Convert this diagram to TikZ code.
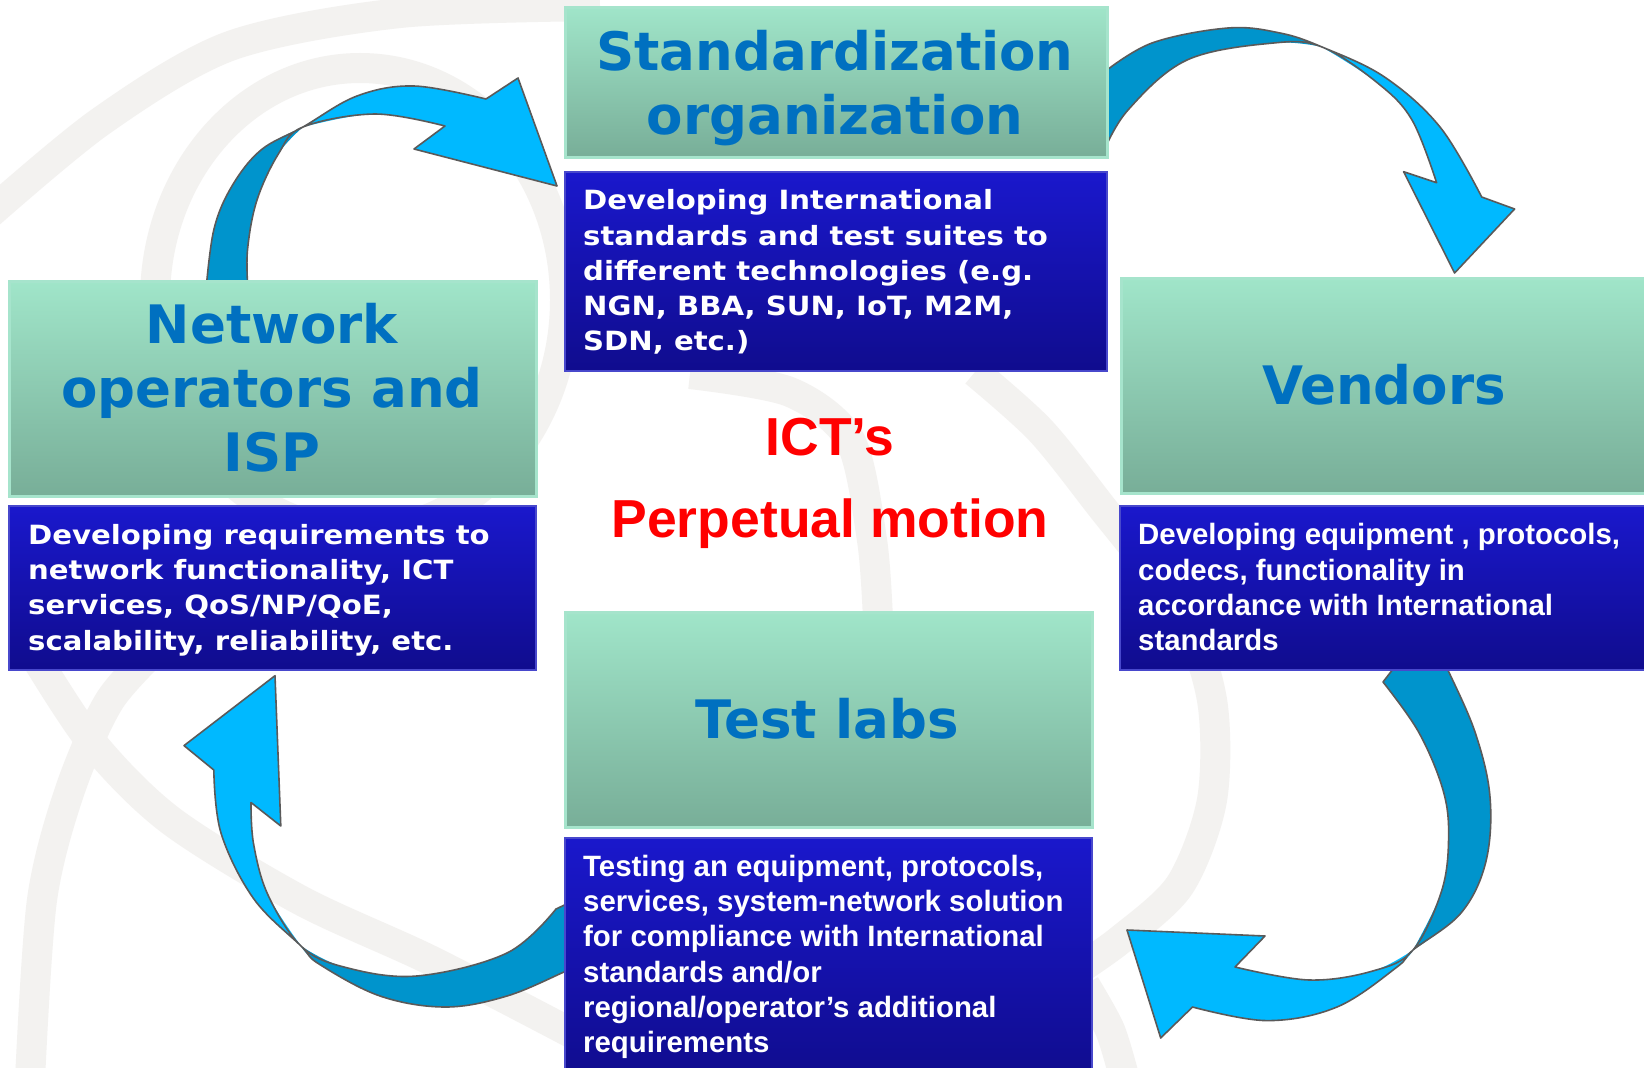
\documentclass[tikz,border=0pt]{standalone}
\usepackage{fontspec}
\newfontfamily\verd{DejaVu Sans}
\newfontfamily\verdw{DejaVu Sans}[FakeStretch=1.1]
\newfontfamily\arl{Liberation Sans}
\definecolor{hdrtop}{RGB}{160,229,201}
\definecolor{hdrbot}{RGB}{120,174,152}
\definecolor{hdrline}{RGB}{166,228,204}
\definecolor{hdrtxt}{RGB}{0,112,192}
\definecolor{desctop}{RGB}{26,24,204}
\definecolor{descbot}{RGB}{16,12,142}
\definecolor{descline}{RGB}{72,72,204}
\definecolor{arrlt}{RGB}{0,185,255}
\definecolor{arrdk}{RGB}{0,148,204}
\definecolor{arrln}{RGB}{90,90,90}
\definecolor{bgband}{RGB}{243,242,240}
\definecolor{redtxt}{RGB}{255,0,0}
\begin{document}
\begin{tikzpicture}[x=1pt,y=-1pt,
  hdrbox/.style={rectangle, anchor=north west, inner sep=0pt, draw=hdrline, line width=3pt, top color=hdrtop, bottom color=hdrbot},
  descbox/.style={rectangle, anchor=north west, inner sep=0pt, draw=descline, line width=2pt, top color=desctop, bottom color=descbot},
  hdrtext/.style={anchor=north, inner sep=0pt, align=center, text=hdrtxt, font=\verd\bfseries\fontsize{53}{64}\selectfont},
  desctv/.style={anchor=north west, inner sep=0pt, align=left, text=white, font=\verdw\bfseries\fontsize{26.5}{35.3}\selectfont},
  descta/.style={anchor=north west, inner sep=0pt, align=left, text=white, font=\arl\bfseries\fontsize{29.4}{35.3}\selectfont},
  band/.style={draw=bgband, line width=30pt},
  lt/.style={fill=arrlt}, dk/.style={fill=arrdk},
  ol/.style={draw=arrln, line width=1.6pt, line join=round}
]
\useasboundingbox (0,0) rectangle (1644,1068);
\fill[white] (0,0) rectangle (1644,1068);

% background swirl
\draw[band] plot[smooth] coordinates {(-20,222) (100,122) (230,46) (400,13) (600,6)};
\draw[band] (360,300) ellipse [x radius=205pt, y radius=232pt];
\draw[band] plot[smooth] coordinates {(690,374) (790,392) (850,440) (872,540) (878,620)};
\draw[band] plot[smooth] coordinates {(975,372) (1040,430) (1100,505) (1180,610) (1212,700) (1212,800) (1180,885) (1120,940) (1070,975)};
\draw[band] plot[smooth] coordinates {(30,1080) (42,900) (70,790) (110,700) (165,640)};
\draw[band] plot[smooth] coordinates {(25,640) (90,740) (170,820) (300,900) (430,960) (575,1035)};
\draw[band] plot[smooth] coordinates {(1085,985) (1110,1030) (1125,1080)};

% arrow A: network -> standardization
\fill[lt] (303,127) -- plot[smooth,tension=.6] coordinates {(303,127) (357,96) (414,86) (486,99)} -- (518,78) -- (557,186) -- (414,149) -- (445,126) -- plot[smooth,tension=.6] coordinates {(445,126) (375,114) (303,127)} -- cycle;
\fill[dk] plot[smooth,tension=.6] coordinates {(206,290) (214,229) (232,186) (261,150) (303,127)} -- plot[smooth,tension=.6] coordinates {(303,127) (278.6,153.6) (257,200) (247.5,250) (248,290)} -- cycle;
\draw[ol] plot[smooth,tension=.6] coordinates {(206,290) (214,229) (232,186) (261,150) (303,127) (357,96) (414,86) (486,99)} -- (518,78) -- (557,186) -- (414,149) -- (445,126) -- plot[smooth,tension=.6] coordinates {(445,126) (375,114) (303,127) (278.6,153.6) (257,200) (247.5,250) (248,290)};

% arrow B: standardization -> vendors
\fill[lt] (1322,47) -- plot[smooth,tension=.6] coordinates {(1322,47) (1377.6,83) (1412,120) (1436.6,182.7)} -- (1403.6,171.7) -- (1454.6,273) -- (1514.6,209) -- (1481.7,197) -- plot[smooth,tension=.6] coordinates {(1481.7,197) (1440,127) (1384.5,77) (1322,47)} -- cycle;
\fill[dk] plot[smooth,tension=.6] coordinates {(1103,153) (1128,110) (1187,60) (1273.5,43) (1322,47)} -- plot[smooth,tension=.6] coordinates {(1322,47) (1280,33) (1228,28) (1152,43) (1103,73)} -- cycle;
\draw[ol] plot[smooth,tension=.6] coordinates {(1103,153) (1128,110) (1187,60) (1273.5,43) (1322,47) (1377.6,83) (1412,120) (1436.6,182.7)} -- (1403.6,171.7) -- (1454.6,273) -- (1514.6,209) -- (1481.7,197) -- plot[smooth,tension=.6] coordinates {(1481.7,197) (1440,127) (1384.5,77) (1322,47) (1280,33) (1228,28) (1152,43) (1103,73)};

% arrow C: vendors -> test labs
\fill[lt] (1413,950) -- plot[smooth,tension=.6] coordinates {(1413,950) (1372.7,971) (1309,980) (1235,967)} -- (1265,936) -- (1127,930) -- (1160.7,1038) -- (1192.5,1007) -- plot[smooth,tension=.6] coordinates {(1192.5,1007) (1267,1020.6) (1337,1007) (1397,967) (1413,950)} -- cycle;
\fill[dk] (1400,660) -- (1383,682) -- plot[smooth,tension=.6] coordinates {(1383,682) (1418.6,732) (1443,790) (1448.6,837) (1441.6,891) (1413,950)} -- plot[smooth,tension=.6] coordinates {(1413,950) (1461,913) (1485.8,862) (1490,797) (1475,732) (1447,668) (1443,660)} -- cycle;
\draw[ol] (1400,660) -- (1383,682) -- plot[smooth,tension=.6] coordinates {(1383,682) (1418.6,732) (1443,790) (1448.6,837) (1441.6,891) (1413,950) (1372.7,971) (1309,980) (1235,967)} -- (1265,936) -- (1127,930) -- (1160.7,1038) -- (1192.5,1007) -- plot[smooth,tension=.6] coordinates {(1192.5,1007) (1267,1020.6) (1337,1007) (1397,967) (1413,950) (1461,913) (1485.8,862) (1490,797) (1475,732) (1447,668) (1443,660)};

% arrow D: test labs -> network
\fill[lt] (301,946) -- plot[smooth,tension=.6] coordinates {(301,946) (268,895) (253.6,844) (251,802.5)} -- (280.8,826) -- (275,675.7) -- (184,745.6) -- (213.8,770) -- plot[smooth,tension=.6] coordinates {(213.8,770) (221,833) (253.6,898.6) (301,946)} -- cycle;
\fill[dk] (575,900) -- (556,909) -- plot[smooth,tension=.6] coordinates {(556,909) (507,953) (416.7,976) (344,967) (301,946)} -- plot[smooth,tension=.6] coordinates {(301,946) (319,964) (380,996) (445.6,1007) (507,996) (564,972) (575,967)} -- cycle;
\draw[ol] (575,900) -- (556,909) -- plot[smooth,tension=.6] coordinates {(556,909) (507,953) (416.7,976) (344,967) (301,946) (268,895) (253.6,844) (251,802.5)} -- (280.8,826) -- (275,675.7) -- (184,745.6) -- (213.8,770) -- plot[smooth,tension=.6] coordinates {(213.8,770) (221,833) (253.6,898.6) (301,946) (319,964) (380,996) (445.6,1007) (507,996) (564,972) (575,967)};

% boxes
\node[hdrbox, minimum width=541.5pt, minimum height=149.5pt] (stdh) at (564,6) {};
\node[descbox, minimum width=541.5pt, minimum height=199pt] (stdd) at (564,171) {};
\node[hdrbox, minimum width=527pt, minimum height=214.5pt] (neth) at (8,280) {};
\node[descbox, minimum width=527pt, minimum height=163.5pt] (netd) at (8,505) {};
\node[hdrbox, minimum width=540pt, minimum height=214.5pt] (venh) at (1120,277) {};
\node[descbox, minimum width=540pt, minimum height=163.5pt] (vend) at (1119,505) {};
\node[hdrbox, minimum width=526.5pt, minimum height=215pt] (testh) at (564,611) {};
\node[descbox, minimum width=526.5pt, minimum height=240pt] (testd) at (564,836.5) {};

% header texts
\node[hdrtext] (stdht) at (835,25.2) {\strut Standardization\\organization};
\node[hdrtext] (netht) at (272,298.8) {\strut Network\\operators and\\ISP};
\node[hdrtext] (venht) at (1384,359.8) {\strut Vendors};
\node[hdrtext] (testht) at (827,693.2) {\strut Test labs};

% description texts
\node[desctv] (stdt) at (583,184.8) {\strut Developing International\\standards and test suites to\\different technologies (e.g.\\NGN, BBA, SUN, IoT, M2M,\\SDN, etc.)};
\node[desctv] (nett) at (28,519.3) {\strut Developing requirements to\\network functionality, ICT\\services, QoS/NP/QoE,\\scalability, reliability, etc.};
\node[descta] (vent) at (1138,519.8) {\strut Developing equipment , protocols,\\codecs, functionality in\\accordance with International\\standards};
\node[descta] (testt) at (583,851.4) {\strut Testing an equipment, protocols,\\services, system-network solution\\for compliance with International\\standards and/or\\regional/operator’s additional\\requirements};

% centre title
\node[anchor=north, inner sep=0pt, align=center, text=redtxt, font=\arl\bfseries\fontsize{53.5}{81.4}\selectfont] (title) at (830,398.6) {\strut ICT’s\\Perpetual motion};
\end{tikzpicture}
\end{document}
